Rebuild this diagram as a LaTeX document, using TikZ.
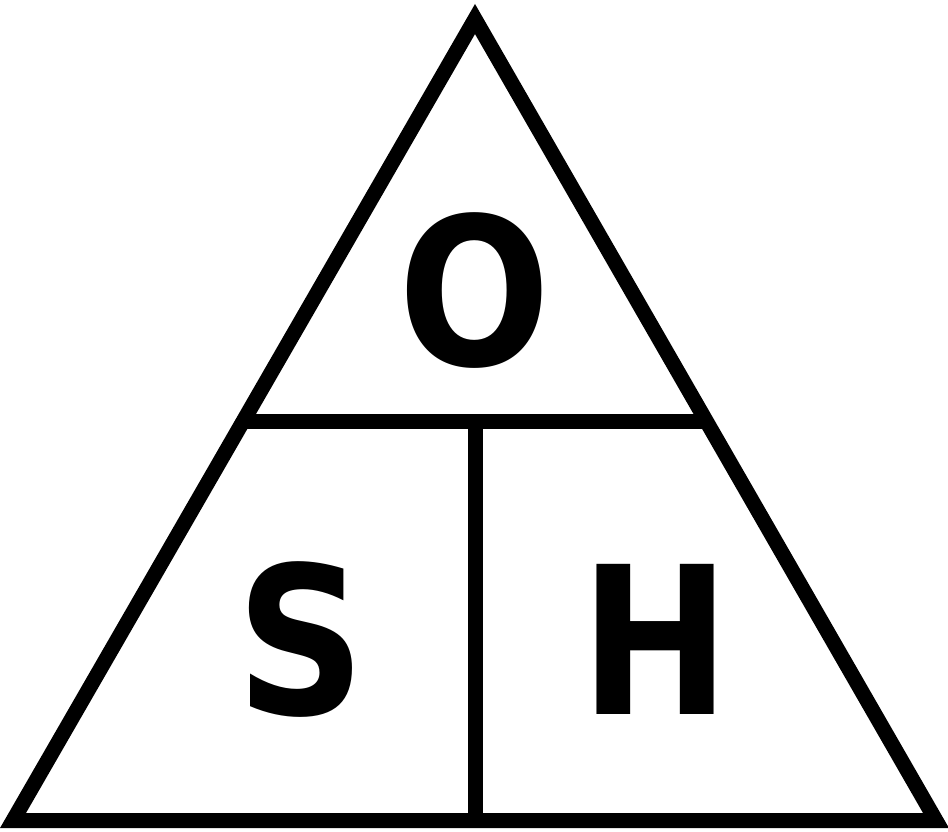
\documentclass[tikz,border=0pt]{standalone}
\usepackage{fontspec}
\setmainfont{DejaVu Sans}
\usepackage{tikz}
\usetikzlibrary{positioning,calc}

\newcommand{\narrow}[1]{\scalebox{0.87}[1]{#1}}

\begin{document}
\begin{tikzpicture}[
  x=1pt, y=-1pt,
  edge/.style={draw=black, line width=15pt, line join=miter},
  split/.style={draw=black, line width=15pt},
  letter/.style={anchor=base, inner sep=0pt, font=\fontsize{206}{206}\bfseries\selectfont}
]
\useasboundingbox (0,0) rectangle (948,831);
\coordinate (top) at (475,19);
\coordinate (bl) at (13,820.5);
\coordinate (br) at (936,820.5);
\coordinate (ml) at (243.5,421);
\coordinate (mr) at (707.5,421);
\coordinate (mid) at (475.5,421);
\coordinate (bm) at (475.5,820.5);

\draw[edge] (top) -- (bl) -- (br) -- cycle;
\draw[split] (ml) -- (mr);
\draw[split] (mid) -- (bm);

\node[letter] (o) at (474.5,365) {\narrow{O}};
\node[letter] (s) at (301.5,714) {\narrow{S}};
\node[letter] (h) at (655.5,714) {\narrow{H}};
\end{tikzpicture}
\end{document}
